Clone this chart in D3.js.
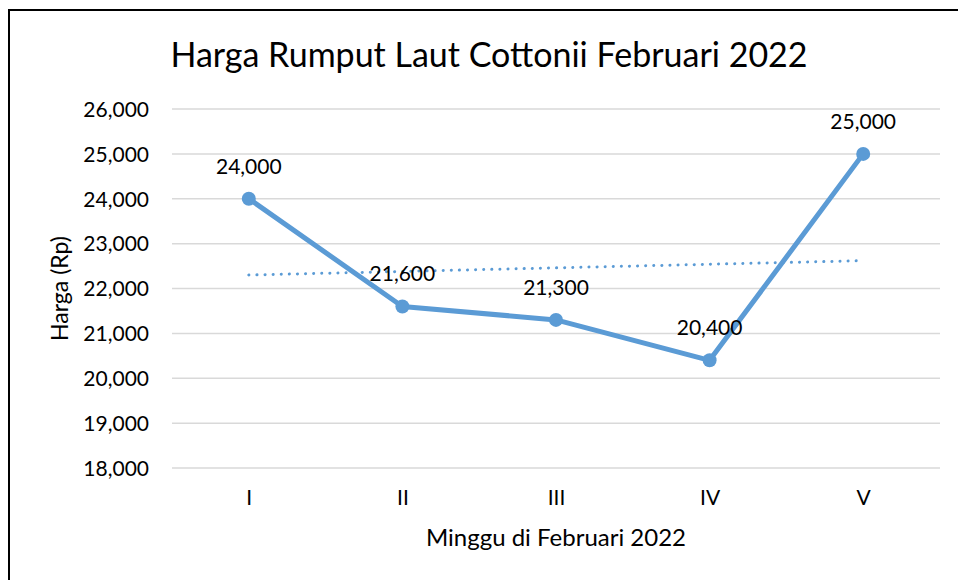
<!DOCTYPE html>
<html>
<head>
<meta charset="utf-8">
<script src="https://cdn.jsdelivr.net/npm/d3@7"></script>
<style>
  html, body { margin: 0; padding: 0; background: #fff; }
  svg { display: block; font-family: Lato, "Noto Sans", sans-serif; }
</style>
</head>
<body>
<svg id="chart" width="958" height="580"></svg>
<script>
const weeks = ["I", "II", "III", "IV", "V"];
const prices = [24000, 21600, 21300, 20400, 25000];
const yTicks = [18000, 19000, 20000, 21000, 22000, 23000, 24000, 25000, 26000];

const titleText = "Harga Rumput Laut Cottonii Februari 2022";
const xTitle = "Minggu di Februari 2022";
const yTitle = "Harga (Rp)";

const width = 958, height = 580;
const lineColor = "#5B9BD5";
const plot = { left: 172, right: 940, top: 109, bottom: 468 };

const svg = d3.select("#chart");

// outer frame
svg.append("rect")
  .attr("x", 9).attr("y", 10)
  .attr("width", 960).attr("height", 600)
  .attr("fill", "none")
  .attr("stroke", "#000")
  .attr("stroke-width", 2);

const x = d3.scalePoint()
  .domain(weeks)
  .range([plot.left, plot.right])
  .padding(0.5);

const y = d3.scaleLinear()
  .domain([18000, 26000])
  .range([plot.bottom, plot.top]);

const fmt = d3.format(",");

// gridlines
svg.append("g")
  .selectAll("line")
  .data(yTicks)
  .join("line")
  .attr("x1", plot.left).attr("x2", plot.right)
  .attr("y1", d => y(d)).attr("y2", d => y(d))
  .attr("stroke", "#d9d9d9")
  .attr("stroke-width", 1.5);

// y axis labels
const yAxis = svg.append("g")
  .attr("transform", `translate(${plot.left - 23},0)`)
  .call(d3.axisLeft(y).tickValues(yTicks).tickFormat(fmt).tickSize(0).tickPadding(0));
yAxis.select(".domain").remove();
yAxis.selectAll("text")
  .attr("font-family", "Lato, 'Noto Sans', sans-serif")
  .attr("font-size", 21)
  .attr("fill", "#000")
  .attr("dy", "0.35em");

// x axis labels
const xAxis = svg.append("g")
  .attr("transform", `translate(0,${plot.bottom})`)
  .call(d3.axisBottom(x).tickSize(0).tickPadding(0));
xAxis.select(".domain").remove();
xAxis.selectAll("text")
  .attr("font-family", "Lato, 'Noto Sans', sans-serif")
  .attr("font-size", 21)
  .attr("fill", "#000")
  .attr("dy", null)
  .attr("y", 37);

// linear trendline (least squares over the series)
const idx = prices.map((d, i) => i + 1);
const mx = d3.mean(idx), my = d3.mean(prices);
const slope = d3.sum(idx, (d, i) => (d - mx) * (prices[i] - my)) / d3.sum(idx, d => (d - mx) * (d - mx));
const intercept = my - slope * mx;
const trend = weeks.map((w, i) => ({ w, v: intercept + slope * (i + 1) }));

svg.append("path")
  .datum([trend[0], trend[trend.length - 1]])
  .attr("d", d3.line().x(d => x(d.w)).y(d => y(d.v)))
  .attr("fill", "none")
  .attr("stroke", lineColor)
  .attr("stroke-width", 3)
  .attr("stroke-linecap", "round")
  .attr("stroke-dasharray", "0.1 8");

// main line
const pts = weeks.map((w, i) => ({ w, v: prices[i] }));
svg.append("path")
  .datum(pts)
  .attr("d", d3.line().x(d => x(d.w)).y(d => y(d.v)))
  .attr("fill", "none")
  .attr("stroke", lineColor)
  .attr("stroke-width", 5)
  .attr("stroke-linejoin", "round");

svg.append("g")
  .selectAll("circle")
  .data(pts)
  .join("circle")
  .attr("cx", d => x(d.w))
  .attr("cy", d => y(d.v))
  .attr("r", 7)
  .attr("fill", lineColor);

// data labels
svg.append("g")
  .selectAll("text")
  .data(pts)
  .join("text")
  .attr("x", d => x(d.w))
  .attr("y", d => y(d.v) - 25)
  .attr("text-anchor", "middle")
  .attr("font-size", 21)
  .attr("fill", "#000")
  .text(d => fmt(d.v));

// titles
svg.append("text")
  .attr("x", 489).attr("y", 67)
  .attr("text-anchor", "middle")
  .attr("font-size", 34)
  .attr("fill", "#000")
  .text(titleText);

svg.append("text")
  .attr("x", 556).attr("y", 546)
  .attr("text-anchor", "middle")
  .attr("font-size", 24)
  .attr("fill", "#000")
  .text(xTitle);

svg.append("text")
  .attr("transform", `translate(68,${(plot.top + plot.bottom) / 2}) rotate(-90)`)
  .attr("text-anchor", "middle")
  .attr("font-size", 23)
  .attr("fill", "#000")
  .text(yTitle);
</script>
</body>
</html>
